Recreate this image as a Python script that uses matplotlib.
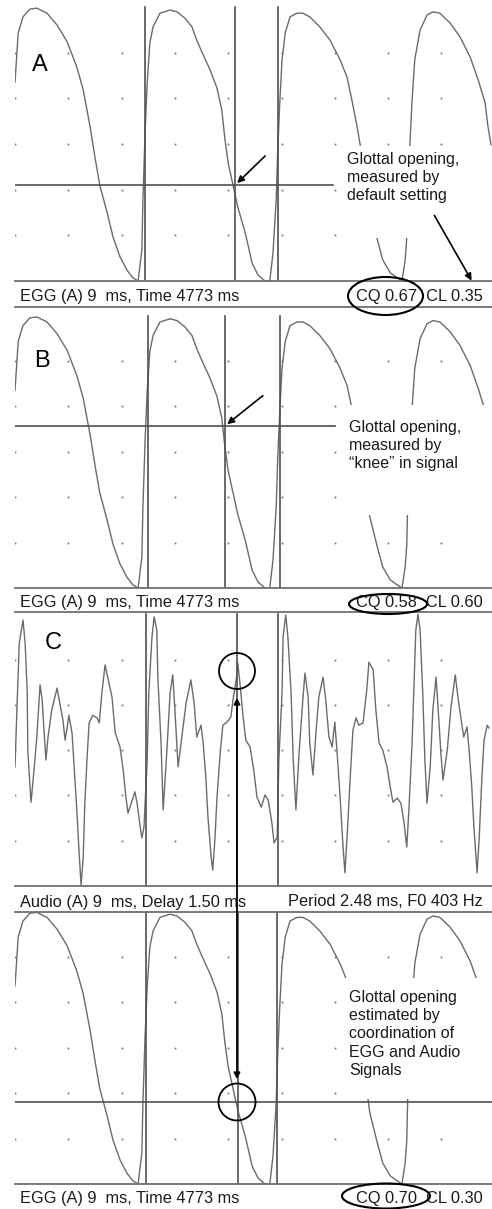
import matplotlib
matplotlib.use("Agg")
import matplotlib.pyplot as plt
from matplotlib.patches import Rectangle, Ellipse, Circle

plt.rcParams['font.family'] = ['Liberation Sans', 'DejaVu Sans']

# EGG trace (ms, grid divisions) - same recording shown in panels A, B and the last panel
egg_t = [0.00, 0.06, 0.15, 0.28, 0.41, 0.60, 0.79, 0.98, 1.16, 1.28, 1.41, 1.50, 1.59,
         1.73, 1.84, 1.97, 2.10, 2.21, 2.31, 2.38, 2.40, 2.44, 2.48, 2.53, 2.59, 2.72,
         2.91, 3.04, 3.19, 3.32, 3.41, 3.53, 3.66, 3.79, 3.88, 3.94, 4.00, 4.09, 4.18,
         4.32, 4.45, 4.56, 4.69, 4.78, 4.84, 4.90, 4.93, 4.97, 5.01, 5.07, 5.16, 5.29,
         5.40, 5.53, 5.72, 5.91, 6.10, 6.23, 6.32, 6.42, 6.47, 6.57, 6.66, 6.79, 6.90,
         7.04, 7.17, 7.26, 7.32, 7.35, 7.37, 7.41, 7.45, 7.50, 7.60, 7.73, 7.84, 7.97,
         8.16, 8.35, 8.54, 8.69, 8.82, 8.87, 8.93]
egg_v = [4.35, 5.43, 5.78, 5.95, 5.97, 5.86, 5.60, 5.23, 4.68, 4.18, 3.37, 2.71, 2.10,
         1.49, 0.96, 0.53, 0.24, 0.07, 0.00, 0.68, 1.77, 3.24, 4.33, 5.21, 5.56, 5.86,
         5.93, 5.89, 5.75, 5.56, 5.27, 4.95, 4.62, 4.22, 3.74, 3.09, 2.58, 2.10, 1.62,
         1.05, 0.39, 0.13, 0.00, 0.00, 0.61, 1.77, 2.87, 3.96, 4.84, 5.43, 5.78, 5.86,
         5.86, 5.78, 5.56, 5.27, 4.84, 4.46, 3.96, 3.37, 3.02, 2.32, 1.55, 0.94, 0.46,
         0.18, 0.07, 0.00, 0.46, 0.94, 1.99, 3.02, 3.96, 4.84, 5.49, 5.82, 5.89, 5.86,
         5.65, 5.34, 4.90, 4.40, 3.90, 3.41, 2.98]

# Audio trace (ms, grid divisions)
audio_t = [0.00, 0.04, 0.08, 0.15, 0.19, 0.23, 0.24, 0.30, 0.34, 0.41, 0.47, 0.51, 0.54,
           0.58, 0.62, 0.69, 0.79, 0.84, 0.90, 0.94, 0.98, 1.01, 1.07, 1.11, 1.16, 1.20,
           1.24, 1.28, 1.31, 1.35, 1.39, 1.46, 1.54, 1.58, 1.63, 1.69, 1.74, 1.82, 1.88,
           1.97, 2.03, 2.08, 2.12, 2.20, 2.25, 2.29, 2.35, 2.38, 2.42, 2.48, 2.51, 2.57,
           2.61, 2.66, 2.68, 2.74, 2.78, 2.85, 2.91, 2.96, 3.00, 3.06, 3.13, 3.21, 3.30,
           3.36, 3.41, 3.49, 3.53, 3.58, 3.62, 3.68, 3.71, 3.75, 3.79, 3.85, 3.90, 3.98,
           4.05, 4.09, 4.15, 4.18, 4.22, 4.28, 4.33, 4.41, 4.48, 4.54, 4.62, 4.69, 4.75,
           4.82, 4.86, 4.92, 4.95, 5.01, 5.03, 5.08, 5.12, 5.18, 5.22, 5.27, 5.33, 5.40,
           5.44, 5.50, 5.53, 5.59, 5.65, 5.70, 5.78, 5.83, 5.89, 5.95, 6.00, 6.04, 6.10,
           6.15, 6.19, 6.23, 6.29, 6.34, 6.40, 6.45, 6.53, 6.60, 6.64, 6.72, 6.77, 6.83,
           6.90, 6.98, 7.04, 7.09, 7.17, 7.24, 7.30, 7.35, 7.39, 7.45, 7.49, 7.52, 7.56,
           7.60, 7.65, 7.69, 7.73, 7.79, 7.84, 7.90, 7.94, 7.99, 8.03, 8.11, 8.18, 8.26,
           8.31, 8.39, 8.42, 8.48, 8.52, 8.57, 8.61, 8.67, 8.71, 8.76, 8.80, 8.86, 8.89]
audio_v = [2.63, 4.04, 5.36, 5.87, 5.36, 4.26, 3.00, 1.85, 2.34, 3.29, 4.44, 4.11, 3.51,
           2.78, 3.29, 3.89, 4.37, 4.04, 3.66, 3.22, 3.51, 3.77, 3.38, 2.63, 1.68, 0.79,
           0.02, 0.64, 1.83, 2.78, 3.60, 3.77, 3.71, 3.60, 4.26, 4.88, 4.61, 4.17, 3.38,
           3.07, 2.56, 1.96, 1.61, 1.90, 2.08, 1.83, 1.30, 1.06, 1.30, 2.78, 4.26, 5.50,
           5.94, 5.65, 4.61, 3.16, 1.68, 3.00, 4.26, 4.66, 3.89, 2.63, 3.29, 4.04, 4.55,
           4.04, 3.29, 3.55, 3.16, 2.41, 1.52, 0.64, 0.35, 1.02, 1.96, 2.94, 3.55, 3.62,
           3.73, 4.11, 4.55, 4.92, 4.48, 3.73, 3.22, 3.07, 2.56, 1.96, 1.74, 2.01, 1.90,
           1.39, 0.95, 1.08, 2.78, 4.26, 5.50, 5.98, 5.50, 4.26, 2.78, 1.68, 2.94, 4.11,
           4.70, 4.17, 3.16, 2.45, 3.44, 4.17, 4.61, 4.11, 3.29, 3.07, 3.62, 3.00, 1.96,
           0.95, 0.29, 1.08, 2.41, 3.44, 3.71, 3.55, 3.60, 4.33, 4.94, 4.77, 3.89, 3.16,
           3.00, 2.63, 2.19, 1.85, 1.94, 1.83, 1.39, 0.86, 1.68, 3.16, 4.61, 5.65, 6.00,
           5.65, 4.26, 2.78, 1.83, 2.63, 3.89, 4.61, 3.89, 2.94, 2.34, 3.00, 3.95, 4.66,
           4.17, 3.51, 3.29, 3.51, 3.00, 2.19, 1.30, 0.29, 1.08, 2.41, 3.22, 3.55, 3.49]

# cursor positions (ms) and horizontal threshold levels (divisions)
cursors_a = [2.44, 4.13, 4.93]
cursors_b = [2.50, 3.94, 4.97]
cursors_c = [2.46, 4.17, 4.93]
cursors_d = [2.46, 4.18, 4.92]
level_a = 2.10
level_b = 3.57
level_d = 1.80

labels_left = ["EGG (A) 9  ms, Time 4773 ms", "EGG (A) 9  ms, Time 4773 ms",
               "Audio (A) 9  ms, Delay 1.50 ms", "EGG (A) 9  ms, Time 4773 ms"]
labels_right = ["CQ 0.67  CL 0.35", "CQ 0.58  CL 0.60",
                "Period 2.48 ms, F0 403 Hz", "CQ 0.70  CL 0.30"]

W, H = 492, 1209
fig = plt.figure(figsize=(W / 100, H / 100), dpi=100)
fig.patch.set_facecolor('white')

WAVE = '#6b6b6b'
CUR = '#505050'
MS_PER_PX = 1 / 53.3


def panel(top, bottom, pxu, show_top=True):
    ax = fig.add_axes([15 / W, 1 - bottom / H, 477 / W, (bottom - top) / H])
    ax.set_xlim(0, 477 * MS_PER_PX)
    ax.set_ylim(0, (bottom - top) / pxu)
    ax.set_xticks([])
    ax.set_yticks([])
    for s in ['left', 'right']:
        ax.spines[s].set_visible(False)
    for s in ['top', 'bottom']:
        ax.spines[s].set_color('#707070')
        ax.spines[s].set_linewidth(1.3)
    ax.spines['top'].set_visible(show_top)
    ax.patch.set_alpha(0)
    for gx in range(0, 9):
        for gy in range(1, 6):
            ax.plot(gx, gy, 's', ms=1.3, color='#777777', mew=0, zorder=1)
    return ax


def cursors(ax, xs):
    for x in xs:
        ax.plot([x, x], [0, 6], color=CUR, lw=1.2, zorder=2.5)


def mask(ax, x0, y0, y1):
    ax.add_patch(Rectangle((x0, y0), 9 - x0, y1 - y0, facecolor='white',
                           edgecolor='none', zorder=3))


ax_a = panel(0, 281, 45.7, show_top=False)
ax_b = panel(307, 588, 45.4)
ax_c = panel(612, 886, 45.3)
ax_d = panel(912, 1184, 45.5)

for ax in (ax_a, ax_b, ax_d):
    ax.plot(egg_t, egg_v, color=WAVE, lw=1.0, zorder=2)
ax_c.plot(audio_t, audio_v, color=WAVE, lw=1.0, zorder=2)

cursors(ax_a, cursors_a)
cursors(ax_b, cursors_b)
cursors(ax_c, cursors_c)
cursors(ax_d, cursors_d)

ax_a.plot([0, 5.97], [level_a, level_a], color=CUR, lw=1.2, zorder=2.5)
ax_b.plot([0, 6.0], [level_b, level_b], color=CUR, lw=1.2, zorder=2.5)
ax_d.plot([0, 9], [level_d, level_d], color=CUR, lw=1.2, zorder=4)

mask(ax_a, 6.06, 0.94, 2.95)
mask(ax_b, 6.06, 1.61, 4.03)
mask(ax_d, 6.06, 1.86, 4.53)

arrow_kw = dict(arrowstyle='-|>', color='black', lw=1.2, mutation_scale=10)
ax_a.annotate('', xy=(cursors_a[1], level_a), xytext=(32, 31),
              textcoords='offset pixels', arrowprops=arrow_kw, zorder=6)
ax_b.annotate('', xy=(cursors_b[1], level_b), xytext=(40, 32),
              textcoords='offset pixels', arrowprops=arrow_kw, zorder=6)

# overlay in pixel coordinates for labels and hand-drawn marks
ov = fig.add_axes([0, 0, 1, 1])
ov.set_xlim(0, W)
ov.set_ylim(H, 0)
ov.axis('off')
ov.set_zorder(10)

FS = 11.8
TXT = '#1a1a1a'
for y, l, r in zip([296, 602, 902, 1199], labels_left, labels_right):
    ov.text(20, y, l, fontsize=FS, color=TXT, ha='left', va='center')
    ov.text(483, y, r, fontsize=FS, color=TXT, ha='right', va='center')

for (x, y), letter in zip([(40, 65), (42, 361), (53, 643)], ['A', 'B', 'C']):
    ov.text(x, y, letter, fontsize=17, color='black', ha='center', va='center')

note_kw = dict(fontsize=11.5, color=TXT, ha='left', va='top', linespacing=1.27)
ov.text(347, 152, "Glottal opening,\nmeasured by\ndefault setting", **note_kw)
ov.text(349, 420, "Glottal opening,\nmeasured by\n\u201cknee\u201d in signal", **note_kw)
ov.text(349, 990, "Glottal opening\nestimated by\ncoordination of\nEGG and Audio\nSignals",
        **note_kw)

ov.annotate('', xy=(473, 283), xytext=(433, 213), arrowprops=arrow_kw)

for (cx, cy), w, h in [((385.5, 296), 75, 38), ((388, 604), 78, 20), ((386, 1196), 88, 25)]:
    ov.add_patch(Ellipse((cx, cy), w, h, fill=False, edgecolor='black', lw=1.5))

for cy, r in [(671, 18), (1102, 18.5)]:
    ov.add_patch(Circle((237, cy), r, fill=False, edgecolor='black', lw=1.3))

ov.annotate('', xy=(237, 1082), xytext=(237, 695),
            arrowprops=dict(arrowstyle='<|-|>', color='black', lw=1.3, mutation_scale=9))

fig.savefig('out.png', dpi=100, facecolor='white')
